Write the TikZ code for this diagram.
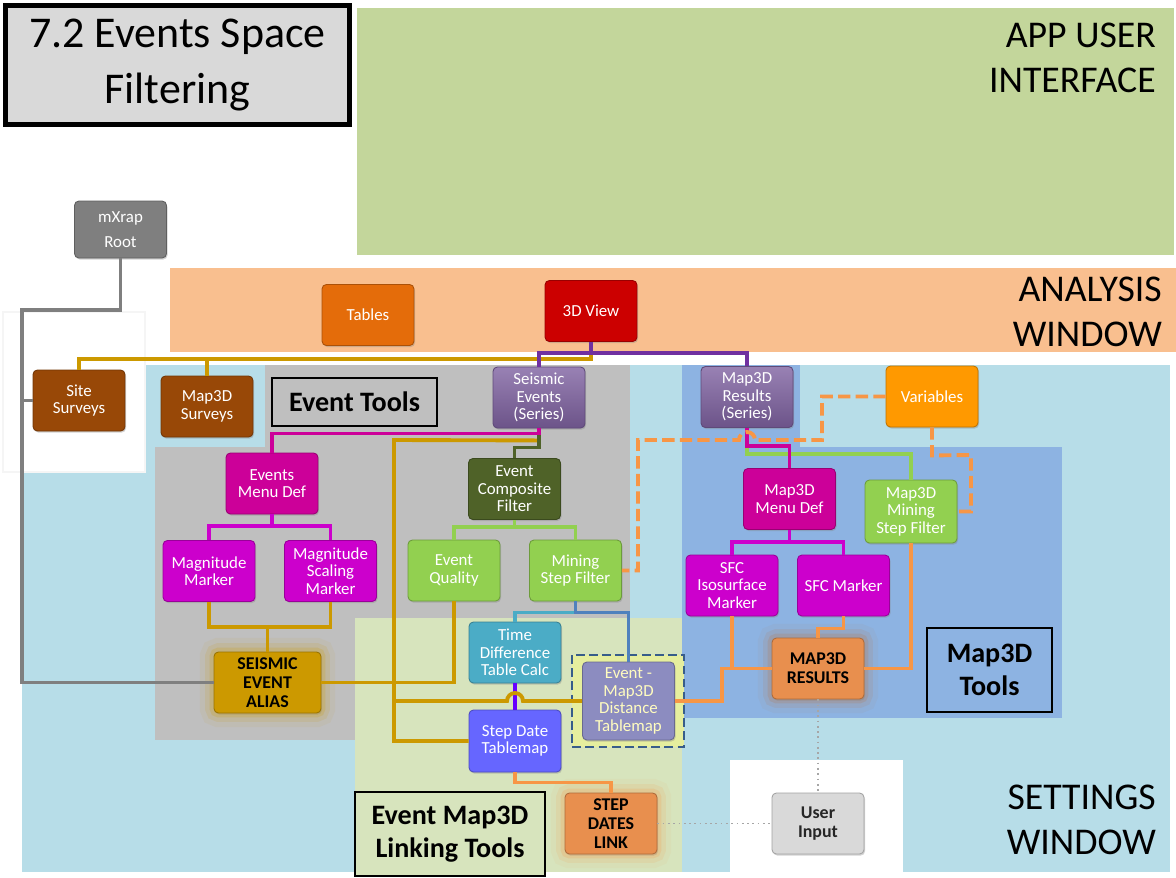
\documentclass[tikz,border=0pt]{standalone}
\usepackage{fontspec}
\setmainfont{Carlito}
\usepackage{tikz}
\usetikzlibrary{shadows}
\usepackage{xcolor}

\definecolor{appgreen}{HTML}{C3D69B}
\definecolor{analysisorange}{HTML}{F9BF8F}
\definecolor{setblue}{HTML}{B7DDE8}
\definecolor{toolgray}{HTML}{BFBFBF}
\definecolor{linkyellow}{HTML}{D7E4BD}
\definecolor{mapblue}{HTML}{8DB3E2}
\definecolor{distyellow}{HTML}{E6EE9E}
\definecolor{rootgray}{HTML}{7F7F7F}
\definecolor{tablesorange}{HTML}{E46C0A}
\definecolor{viewred}{HTML}{CC0000}
\definecolor{surveybrown}{HTML}{984807}
\definecolor{seriespurple}{HTML}{7F62A1}
\definecolor{varorange}{HTML}{FF9900}
\definecolor{menumagenta}{HTML}{CC0099}
\definecolor{markmagenta}{HTML}{CC00CC}
\definecolor{compolive}{HTML}{4F6228}
\definecolor{filtergreen}{HTML}{92D050}
\definecolor{timeteal}{HTML}{4BACC6}
\definecolor{aliasgold}{HTML}{CC9900}
\definecolor{resultorange}{HTML}{E88F4E}
\definecolor{distlavender}{HTML}{8C8CC0}
\definecolor{stepviolet}{HTML}{6666FF}
\definecolor{usergray}{HTML}{D9D9D9}
\definecolor{linkpurple}{HTML}{7030A0}
\definecolor{linksteel}{HTML}{4F81BD}
\definecolor{linkviolet}{HTML}{6600FF}
\definecolor{linkorange}{HTML}{F79646}
\definecolor{framedark}{HTML}{385D8A}

\begin{document}
\begin{tikzpicture}[
    x=0.02cm,
    y=-0.02cm,
    line join=miter,
    box/.style={rectangle, rounded corners=2.5pt, fill=#1, draw=#1!75!black, line width=0.5pt, text=white, align=center, minimum width=1.84cm, minimum height=1.22cm, inner sep=1pt, font={\fontsize{9.6}{9.9}\selectfont}, drop shadow={shadow xshift=0.6pt, shadow yshift=-0.9pt, opacity=0.35}},
    seriesbox/.style={box=seriespurple, top color=seriespurple!80!white, bottom color=seriespurple!85!black},
    boldbox/.style={box=#1, text=black, font={\bfseries\fontsize{10.2}{10.8}\selectfont}},
    glow/.style={preaction={draw=#1, draw opacity=0.06, line width=16pt}, preaction={draw=#1, draw opacity=0.12, line width=10pt}, preaction={draw=#1, draw opacity=0.2, line width=5pt}},
    link/.style={draw=#1, line width=2.2pt},
    dashlink/.style={draw=linkorange, line width=2.2pt, dash pattern=on 7pt off 3pt},
    dotlink/.style={draw=black!35, line width=1pt, dotted},
    dashframe/.style={draw=framedark, fill=distyellow, line width=1.6pt, dash pattern=on 5pt off 2.5pt},
    toolbox/.style={draw=black, fill=#1, line width=1.1pt, align=center, font={\bfseries\fontsize{16}{18.7}\selectfont}},
    wintext/.style={anchor=east, align=right, font={\fontsize{21.5}{25.5}\selectfont}},
  ]

  % Window areas
  \fill[setblue] (22,365) rectangle (1170,872);
  \fill[white] (3,312) rectangle (145,472);
  \draw[black!4, line width=0.8pt] (3,312) rectangle (145,472);
  \fill[analysisorange] (170,268) rectangle (1176,352);
  \fill[appgreen] (357,8) rectangle (1174,255);

  % Tool areas
  \fill[toolgray] (265,365) rectangle (630,618);
  \fill[toolgray] (155,447) rectangle (358,740);
  \fill[linkyellow] (355,618) rectangle (682,872);
  \fill[mapblue] (682,365) rectangle (800,447);
  \fill[mapblue] (682,447) rectangle (1062,718);
  \fill[white] (730,760) rectangle (903,877);
  \draw[dashframe] (572,655) rectangle (684,747);

  % Title and window names
  \node[draw=black, fill=usergray, line width=2.8pt, minimum width=6.88cm, minimum height=2.38cm, align=center, font={\fontsize{25}{31.8}\selectfont}, drop shadow={shadow xshift=1pt, shadow yshift=-1pt, opacity=0.3}] (title) at (177.5,65) {7.2 Events Space\\Filtering};
  \node[wintext] (appui) at (1162,58) {APP USER\\INTERFACE};
  \node[wintext] (analysis) at (1168,312) {ANALYSIS\\WINDOW};
  \node[wintext] (settings) at (1162,820) {SETTINGS\\WINDOW};

  % Layer nodes
  \node[box=rootgray, font={\fontsize{9.6}{14}\selectfont}, minimum height=1.14cm] (root) at (120.5,229.5) {mXrap\\Root};
  \node[box=tablesorange] (tables) at (368,315) {Tables};
  \node[box=viewred] (view3d) at (591,311) {3D View};
  \node[box=surveybrown] (sitesurv) at (79,400.5) {Site\\Surveys};
  \node[box=surveybrown] (m3dsurv) at (207,406.5) {Map3D\\Surveys};
  \node[seriesbox] (seisev) at (539,397.5) {Seismic\\Events\\(Series)};
  \node[seriesbox] (m3dres) at (747,397) {Map3D\\Results\\(Series)};
  \node[box=varorange] (variables) at (932,396.5) {Variables};
  \node[box=menumagenta] (evmenu) at (272,483.5) {Events\\Menu Def};
  \node[box=compolive] (evcomp) at (514.5,489) {Event\\Composite\\Filter};
  \node[box=markmagenta] (magmark) at (209,571) {Magnitude\\Marker};
  \node[box=markmagenta] (magscale) at (330.5,571) {Magnitude\\Scaling\\Marker};
  \node[box=filtergreen] (evqual) at (454,570.5) {Event\\Quality};
  \node[box=filtergreen] (minestep) at (575.5,570.5) {Mining\\Step Filter};
  \node[box=menumagenta] (m3dmenu) at (789.5,499) {Map3D\\Menu Def};
  \node[box=filtergreen, minimum height=1.26cm] (m3dstep) at (911,511.5) {Map3D\\Mining\\Step Filter};
  \node[box=markmagenta] (sfciso) at (732,585.5) {SFC\\Isosurface\\Marker};
  \node[box=markmagenta] (sfcmark) at (843.5,585.5) {SFC Marker};
  \node[box=timeteal] (timediff) at (515,652.5) {Time\\Difference\\Table Calc};
  \node[boldbox=aliasgold, glow=aliasgold, minimum width=2.14cm] (alias) at (267.5,682.5) {SEISMIC\\EVENT\\ALIAS};
  \node[boldbox=resultorange, glow=resultorange!80!black] (results) at (818,668.5) {MAP3D\\RESULTS};
  \node[box=distlavender, text=yellow!25, minimum height=1.56cm] (distmap) at (628.5,701) {Event -\\Map3D\\Distance\\Tablemap};
  \node[box=stepviolet, minimum height=1.24cm] (stepdate) at (515,741) {Step Date\\Tablemap};
  \node[boldbox=resultorange, glow=linkorange] (steplink) at (611,823.5) {STEP\\DATES\\LINK};
  \node[boldbox=usergray, text=black!85] (userin) at (818,823.5) {User\\Input};

  % Root and survey branches
  \draw[link=rootgray] (root.south) |- (22,310) |- (alias.west);
  \draw[link=rootgray] (sitesurv.west) -- ++(-11,0);
  \draw[link=aliasgold] (view3d.south) -- ++(0,17) -| (sitesurv.north);
  \draw[link=aliasgold] (m3dsurv.north) -- ++(0,-18);
  \draw[link=linkpurple] (view3d.south) -- ++(0,11) -| (seisev.north);
  \draw[link=linkpurple] (view3d.south) -- ++(0,11) -| (m3dres.north);

  % Seismic events branches
  \draw[link=aliasgold] (seisev.south) -- ++(0,12) -- (394,440) |- (stepdate.west);
  \draw[link=compolive] (seisev.south) -- ++(0,19) -| (evcomp.north);
  \draw[link=menumagenta] (seisev.south) -- ++(0,5) -| (evmenu.north);
  \draw[link=markmagenta] (magmark.north) -- ++(0,-14) -| (magscale.north);
  \draw[link=markmagenta] (evmenu.south) -- ++(0,12);
  \draw[link=aliasgold] (magmark.south) -- ++(0,25) -| (magscale.south);
  \draw[link=aliasgold] (alias.north) -- ++(0,-25);
  \draw[link=aliasgold] (alias.east) -| (evqual.south);
  \draw[link=filtergreen] (evqual.north) -- ++(0,-13) -| (minestep.north);
  \draw[link=filtergreen] (evcomp.south) -- ++(0,7);

  % Linking chain
  \draw[link=timeteal] (minestep.south) -- ++(0,11) -| (timediff.north);
  \draw[link=linksteel] (minestep.south) -- ++(0,11) -| (distmap.north);
  \draw[link=linkviolet] (timediff.south) -- (stepdate.north);
  \draw[link=aliasgold] (394,701) -- (507,701) arc[start angle=180, end angle=360, radius=8] -- (distmap.west);
  \draw[link=linkorange] (stepdate.south) -- ++(0,10) -| (steplink.north);

  % Map3D results branches
  \draw[link=filtergreen] (m3dres.south) -- ++(0,26) -| (m3dstep.north);
  \draw[link=menumagenta] (m3dres.south) -- ++(0,18) -| (m3dmenu.north);
  \draw[link=markmagenta] (sfciso.north) -- ++(0,-13) -| (sfcmark.north);
  \draw[link=markmagenta] (m3dmenu.south) -- ++(0,12);
  \draw[link=linkorange] (distmap.east) -- ++(47,0) |- (results.west);
  \draw[link=linkorange] (sfciso.south) -- (sfciso.south |- results.west);
  \draw[link=linkorange] (sfcmark.south) -- ++(0,12) -| (results.north);
  \draw[link=linkorange] (results.east) -| (m3dstep.south);

  % Variables feeds
  \draw[dashlink] (variables.west) -| (822,440) -- (755,440) arc[start angle=0, end angle=-180, radius=8] -- (638,440) |- (minestep.east);
  \draw[dashlink] (variables.south) -- ++(0,28) -- (971,455) |- (m3dstep.east);

  % User input
  \draw[dotlink] (results.south) -- (userin.north);
  \draw[dotlink] (steplink.east) -- (userin.west);

  % Tool group labels
  \node[toolbox=toolgray, minimum width=3.3cm, minimum height=0.96cm] (evtools) at (354.5,402) {Event Tools};
  \node[toolbox=mapblue, minimum width=2.5cm, minimum height=1.68cm] (maptools) at (989.5,670) {Map3D\\Tools};
  \node[toolbox=linkyellow, minimum width=3.8cm, minimum height=1.68cm] (linktools) at (450,834) {Event Map3D\\Linking Tools};

  \path[use as bounding box] (0,0) rectangle (1176,877);
\end{tikzpicture}
\end{document}
